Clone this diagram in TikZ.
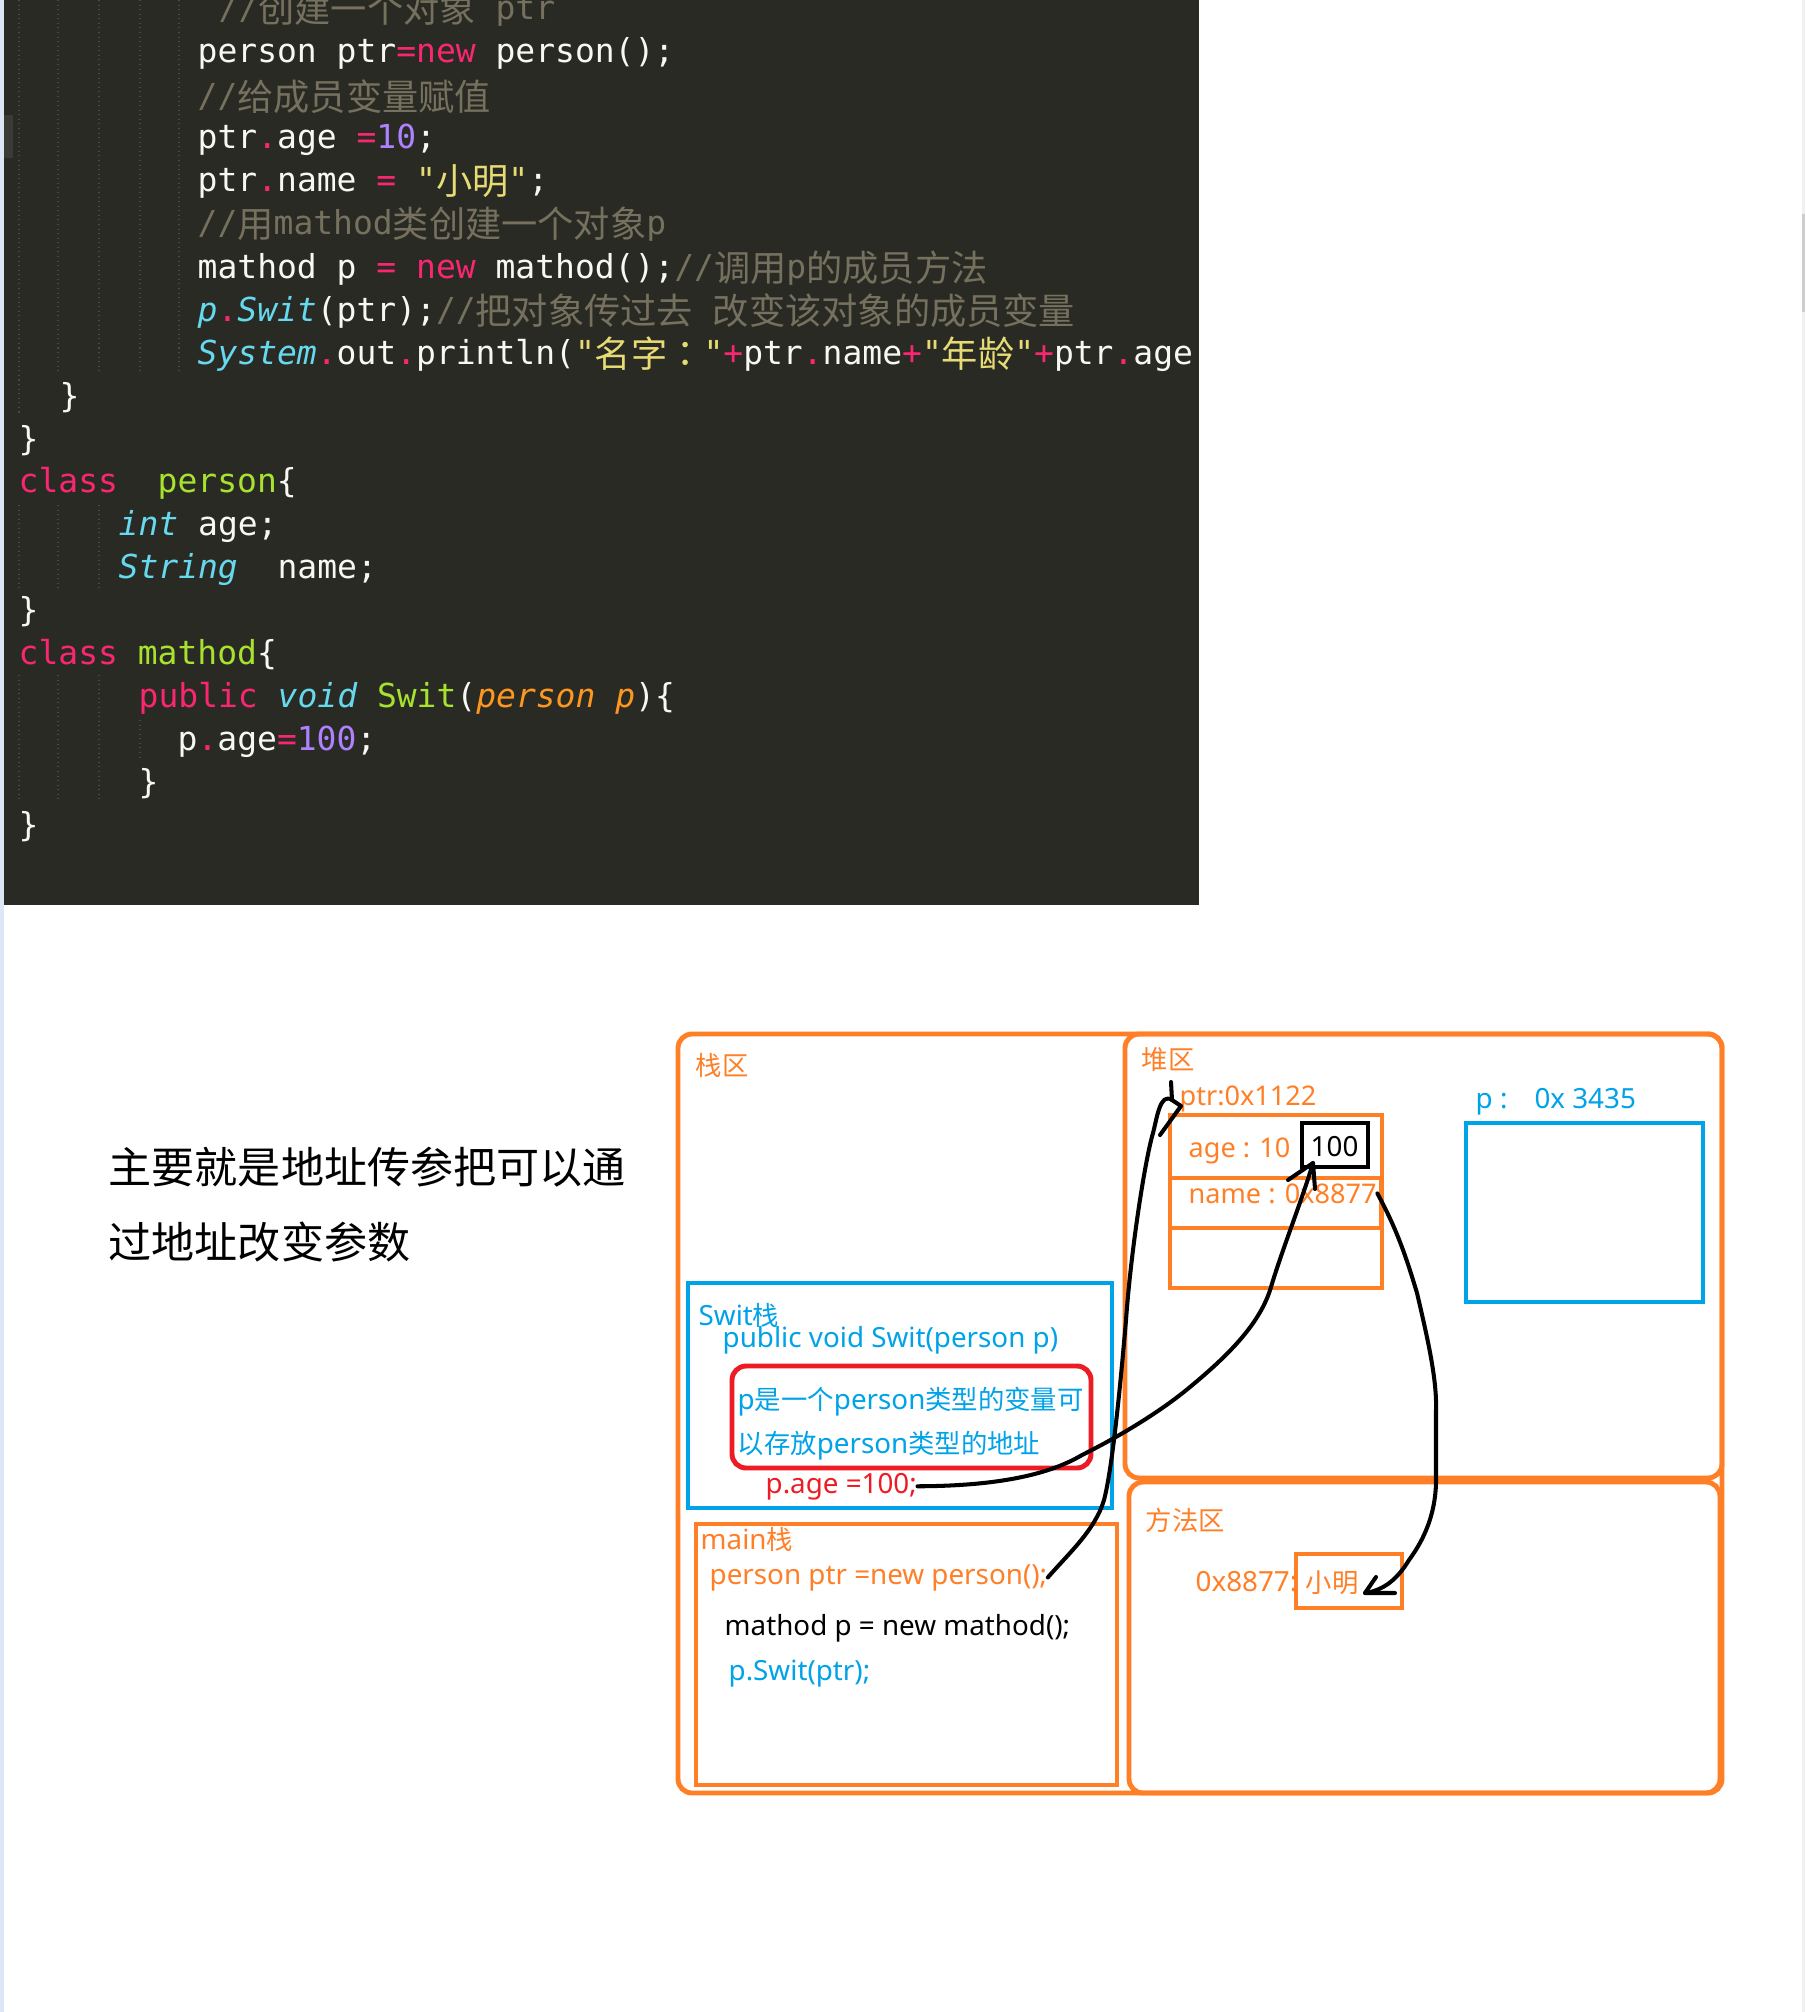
\documentclass[tikz,border=0pt]{standalone}
\usepackage{fontspec}
\usepackage{tikz}
\usetikzlibrary{arrows,positioning}
\setmainfont{Noto Sans}
\newfontfamily\codefont{DejaVu Sans Mono}
\newfontfamily\cjkfont{Noto Sans CJK SC}
\newfontfamily\cjkcolon{Noto Sans CJK TC}
\definecolor{codebg}{HTML}{2A2A24}
\definecolor{codetext}{HTML}{F8F8F2}
\definecolor{codepink}{HTML}{F92672}
\definecolor{codegreen}{HTML}{A6E22E}
\definecolor{codeblue}{HTML}{66D9EF}
\definecolor{codearg}{HTML}{FD971F}
\definecolor{codenum}{HTML}{AE81FF}
\definecolor{codestr}{HTML}{E6DB74}
\definecolor{codecm}{HTML}{75715E}
\definecolor{guide}{HTML}{4A4A44}
\definecolor{memoorange}{HTML}{FF7F27}
\definecolor{memoblue}{HTML}{00A2E8}
\definecolor{memored}{HTML}{ED1C24}
\newcommand{\zh}[1]{{\cjkfont\fontsize{7.5}{9}\selectfont #1}}
\newcommand{\cz}[1]{\raisebox{-0.9pt}{\cjkfont\fontsize{10.3}{12}\selectfont #1}}
\newcommand{\cpk}[1]{\textcolor{codepink}{#1}}
\newcommand{\cgn}[1]{\textcolor{codegreen}{#1}}
\newcommand{\cty}[1]{\textcolor{codeblue}{\itshape #1}}
\newcommand{\carg}[1]{\textcolor{codearg}{\itshape #1}}
\newcommand{\cnb}[1]{\textcolor{codenum}{#1}}
\newcommand{\cst}[1]{\textcolor{codestr}{#1}}
\newcommand{\ccm}[1]{\textcolor{codecm}{#1}}
\tikzset{
  codeline/.style={anchor=base west,inner sep=0pt,text=codetext,font=\codefont\fontsize{9.38}{11}\selectfont},
  guideline/.style={guide,line width=0.3pt,densely dotted},
  memotext/.style={anchor=base west,inner sep=0pt,text=memoorange,font=\fontsize{7.9}{9}\selectfont},
  heaptext/.style={memotext,font=\fontsize{7.7}{9}\selectfont},
  bluetext/.style={memotext,text=memoblue},
  redtext/.style={memotext,text=memored},
  blacktext/.style={memotext,text=black},
  notetext/.style={anchor=base west,inner sep=0pt,text=black,font=\cjkfont\fontsize{12.25}{15}\selectfont},
  orangebox/.style={memoorange,line width=1.4pt},
  bluebox/.style={memoblue,line width=1.4pt},
  inkline/.style={black,line width=1.15pt,line cap=round,line join=round}
}

\begin{document}
\begin{tikzpicture}[x=0.01cm,y=-0.01cm]
  \useasboundingbox (0,0) rectangle (1805,2012);
  \fill [white] (0,0) rectangle (1805,2012);
  \fill [color={rgb,255:red,220;green,230;blue,245}] (0,0) rectangle (4,2012);
  \fill [color={rgb,255:red,240;green,240;blue,240}] (1802,0) rectangle (1805,2012);
  \fill [color={rgb,255:red,205;green,205;blue,205}] (1802,214) rectangle (1805,312);
  % code
  \begin{scope}
    \clip (4,0) rectangle (1199,905);
    \fill [codebg] (4,0) rectangle (1199,905);
    \fill [color={rgb,255:red,58;green,58;blue,54}] (4,115) rectangle (13,158);
    \draw [guideline] (19,0) -- (19,416);
    \draw [guideline] (58,0) -- (58,372);
    \draw [guideline] (99,0) -- (99,372);
    \draw [guideline] (140,0) -- (140,372);
    \draw [guideline] (179,0) -- (179,372);
    \draw [guideline] (19,505) -- (19,588);
    \draw [guideline] (58,505) -- (58,588);
    \draw [guideline] (99,505) -- (99,588);
    \draw [guideline] (19,675) -- (19,803);
    \draw [guideline] (58,675) -- (58,803);
    \draw [guideline] (99,675) -- (99,803);
    \draw [guideline] (140,720) -- (140,758);
    \node [codeline] (cm_create) at (218,19) {\ccm{//\cz{创建一个对象} ptr}};
    \node [codeline] (new_person) at (197,62) {person ptr\cpk{=}\cpk{new} person();};
    \node [codeline] (cm_assign) at (197,107) {\ccm{//\cz{给成员变量赋值}}};
    \node [codeline] (set_age) at (197,148) {ptr\cpk{.}age \cpk{=}\cnb{10};};
    \node [codeline] (set_name) at (197,191) {ptr\cpk{.}name \cpk{=} \cst{"\cz{小明}"};};
    \node [codeline] (cm_mathod) at (197,234) {\ccm{//\cz{用}mathod\cz{类创建一个对象}p}};
    \node [codeline] (new_mathod) at (197,278) {mathod p \cpk{=} \cpk{new} mathod();\ccm{//\cz{调用}p\cz{的成员方法}}};
    \node [codeline] (call_swit) at (197,321) {\cty{p}\cpk{.}\cty{Swit}(ptr);\ccm{//\cz{把对象传过去}\ \cz{改变该对象的成员变量}}};
    \node [codeline] (println) at (197,364) {\cty{System}\cpk{.}out\cpk{.}println(\cst{"\cz{名字{\cjkcolon：}}"}\cpk{+}ptr\cpk{.}name\cpk{+}\cst{"\cz{年龄}"}\cpk{+}ptr\cpk{.}age};
    \node [codeline] (close_main) at (59,407) {\}};
    \node [codeline] (close_outer) at (18,450) {\}};
    \node [codeline] (class_person) at (18,492) {\cpk{class}\ \ \cgn{person}\{};
    \node [codeline] (int_age) at (118,535) {\cty{int} age;};
    \node [codeline] (string_name) at (118,578) {\cty{String}\ \ name;};
    \node [codeline] (close_person) at (18,621) {\}};
    \node [codeline] (class_mathod) at (18,664) {\cpk{class} \cgn{mathod}\{};
    \node [codeline] (swit_head) at (138,707) {\cpk{public} \cty{void} \cgn{Swit}(\carg{person p})\{};
    \node [codeline] (swit_body) at (177,750) {p\cpk{.}age\cpk{=}\cnb{100};};
    \node [codeline] (close_swit) at (138,793) {\}};
    \node [codeline] (close_mathod) at (18,836) {\}};
  \end{scope}
  % note on the left
  \node [notetext] (note_one) at (108,1183) {主要就是地址传参把可以通};
  \node [notetext] (note_two) at (108,1258) {过地址改变参数};
  % stack
  \draw [orangebox,rounded corners=4pt] (678,1034) rectangle (1722,1793);
  \node [memotext] (stack_title) at (695,1075) {\zh{栈区}};
  \draw [bluebox] (688,1283) rectangle (1112,1508);
  \node [bluetext] (swit_title) at (698,1325) {Swit\zh{栈}};
  \node [bluetext] (swit_sign) at (722,1347) {public void Swit(person p)};
  \draw [memored,line width=1.4pt,rounded corners=4pt] (732,1366) rectangle (1091,1468);
  \node [bluetext] (p_one) at (737,1409) {p\zh{是一个}person\zh{类型的变量可}};
  \node [bluetext] (p_two) at (737,1453) {\zh{以存放}person\zh{类型的地址}};
  \node [redtext] (p_age) at (765,1493) {p.age =100;};
  \draw [orangebox] (696,1524) rectangle (1117,1785);
  \node [memotext] (main_title) at (700,1549) {main\zh{栈}};
  \node [memotext] (ptr_new) at (709,1584) {person ptr =new person();};
  \node [blacktext] (p_new) at (724,1635) {mathod p = new mathod();};
  \node [bluetext] (p_call) at (728,1680) {p.Swit(ptr);};
  % heap
  \draw [orangebox,rounded corners=4pt] (1125,1034) rectangle (1722,1478);
  \node [memotext] (heap_title) at (1141,1069) {\zh{堆区}};
  \node [heaptext] (ptr_addr) at (1179,1105) {ptr:0x1122};
  \draw [orangebox] (1170,1115) rectangle (1382,1288);
  \draw [orangebox] (1170,1178) rectangle (1381,1228);
  \node [heaptext] (age_val) at (1188,1157) {age : 10};
  \node [heaptext] (name_val) at (1188,1203) {name : 0x8877};
  \draw [black,line width=1.4pt] (1302,1123) rectangle (1368,1167);
  \node [blacktext] (age_new) at (1310,1156) {100};
  \node [bluetext] (p_addr) at (1475,1108) {p :\hspace{7.7pt}0x 3435};
  \draw [bluebox] (1466,1123) rectangle (1703,1302);
  % method area
  \draw [orangebox,rounded corners=4pt] (1129,1482) rectangle (1720,1793);
  \node [memotext] (method_title) at (1145,1530) {\zh{方法区}};
  \node [memotext] (str_addr) at (1195,1591) {0x8877:};
  \draw [orangebox] (1296,1554) rectangle (1402,1608);
  \node [memotext] (str_val) at (1305,1592) {\zh{小明}};
  % hand drawn arrows
  \coordinate (ptr_tip) at (1172,1100);
  \coordinate (age_tip) at (1313,1163);
  \coordinate (str_tip) at (1365,1593);
  \draw [inkline] (ptr_new.east) .. controls (1070,1552) and (1095,1530) .. (1104,1500)
    .. controls (1112,1470) and (1120,1390) .. (1126,1320)
    .. controls (1131,1250) and (1145,1160) .. (1153,1133)
    .. controls (1157,1118) and (1160,1092) .. (ptr_tip);
  \draw [inkline] (1171,1082) -- (ptr_tip) -- (1181,1106) -- (1160,1135);
  \draw [inkline] (p_age.east) .. controls (1000,1486) and (1050,1474) .. (1082,1455)
    .. controls (1120,1436) and (1160,1412) .. (1190,1387)
    .. controls (1225,1358) and (1260,1325) .. (1271,1287)
    .. controls (1282,1250) and (1302,1200) .. (age_tip);
  \draw [inkline] (1288,1180) -- (age_tip) -- (1315,1189);
  \draw [inkline] (name_val.east) .. controls (1396,1228) and (1405,1253) .. (1417,1293)
    .. controls (1428,1340) and (1437,1380) .. (1436,1410)
    -- (1436,1483)
    .. controls (1435,1520) and (1420,1545) .. (1409,1560)
    .. controls (1398,1578) and (1385,1590) .. (str_tip);
  \draw [inkline] (1376,1577) -- (str_tip) -- (1395,1593);
\end{tikzpicture}
\end{document}
